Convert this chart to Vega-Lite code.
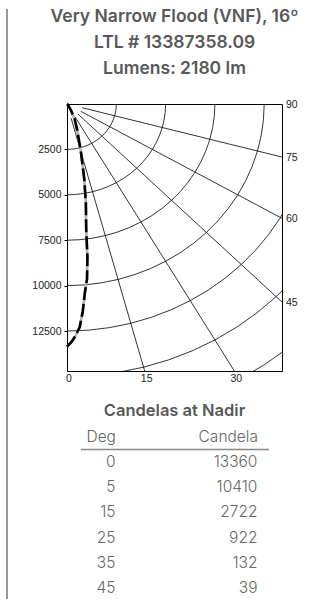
{
  "$schema": "https://vega.github.io/schema/vega-lite/v6.json",
  "padding": {"left": 6, "top": 7, "right": 0, "bottom": 0},
  "config": {"font": "Liberation Sans", "view": {"stroke": null}},
  "datasets": {
    "arcs": [
      {"r": 2500, "a": [0,5,10,15,20,25,30,35,40,45,50,55,60,65,70,75,80,85,90]},
      {"r": 5000, "a": [0,5,10,15,20,25,30,35,40,45,50,55,60,65,70,75,80,85,90]},
      {"r": 7500, "a": [0,5,10,15,20,25,30,35,40,45,50,55,60,65,70,75,80,85,90]},
      {"r": 10000, "a": [0,5,10,15,20,25,30,35,40,45,50,55,60,65,70,75,80,85,90]},
      {"r": 12500, "a": [0,5,10,15,20,25,30,35,40,45,50,55,60,65,70,75,80,85,90]},
      {"r": 15000, "a": [0,5,10,15,20,25,30,35,40,45,50,55,60,65,70,75,80,85,90]},
      {"r": 17500, "a": [0,5,10,15,20,25,30,35,40,45,50,55,60,65,70,75,80,85,90]}
    ],
    "rays": [
      {"a": 15, "r0": 800, "r1": 30000},
      {"a": 30, "r0": 800, "r1": 30000},
      {"a": 45, "r0": 800, "r1": 30000},
      {"a": 60, "r0": 800, "r1": 30000},
      {"a": 75, "r0": 800, "r1": 30000}
    ],
    "labels": [
      {"label": "0", "a": 0, "side": "bottom"},
      {"label": "15", "a": 15, "side": "bottom"},
      {"label": "30", "a": 30, "side": "bottom"},
      {"label": "45", "a": 45, "side": "right"},
      {"label": "60", "a": 60, "side": "right"},
      {"label": "75", "a": 75, "side": "right"},
      {"label": "90", "a": 90, "side": "right"}
    ],
    "curve": [
      {"deg": 0, "cd": 13360},
      {"deg": 1, "cd": 13100},
      {"deg": 2, "cd": 12750},
      {"deg": 3, "cd": 12300},
      {"deg": 4, "cd": 11450},
      {"deg": 5, "cd": 10410},
      {"deg": 6, "cd": 9700},
      {"deg": 7, "cd": 8500},
      {"deg": 8, "cd": 7000},
      {"deg": 10, "cd": 5500},
      {"deg": 12, "cd": 4200},
      {"deg": 15, "cd": 2722},
      {"deg": 20, "cd": 1500},
      {"deg": 25, "cd": 922},
      {"deg": 30, "cd": 400},
      {"deg": 35, "cd": 132},
      {"deg": 45, "cd": 39},
      {"deg": 60, "cd": 10},
      {"deg": 90, "cd": 0}
    ],
    "nadir": [
      {"deg": 0, "cd": 13360},
      {"deg": 5, "cd": 10410},
      {"deg": 15, "cd": 2722},
      {"deg": 25, "cd": 922},
      {"deg": 35, "cd": 132},
      {"deg": 45, "cd": 39}
    ]
  },
  "spacing": 23,
  "hconcat": [
    {
      "width": 1,
      "height": 496,
      "data": {"values": [{}]},
      "view": {"stroke": null},
      "mark": {"type": "rule", "color": "#999999", "strokeWidth": 2, "clip": false},
      "encoding": {
        "x": {"datum": 0, "type": "quantitative", "scale": {"domain": [0, 1]}, "axis": null},
        "y": {"datum": 0, "type": "quantitative", "scale": {"domain": [0, 1]}, "axis": null},
        "y2": {"datum": 1.1915}
      }
    },
    {
      "vconcat": [
        {
          "width": 215,
          "height": 267,
          "view": {"stroke": "#000000", "strokeWidth": 1},
          "title": {
            "text": ["Very Narrow Flood (VNF), 16º", "LTL # 13387358.09", "Lumens: 2180 lm"],
            "font": "Inter", "fontSize": 17.5, "fontWeight": 600, "color": "#585858",
            "lineHeight": 26, "anchor": "middle", "offset": 21
          },
          "encoding": {
            "x": {"field": "X", "type": "quantitative", "scale": {"domain": [0, 10903], "nice": false, "zero": false}, "axis": null},
            "y": {"field": "Y", "type": "quantitative", "scale": {"domain": [0, 14700], "nice": false, "reverse": true},
              "axis": {"values": [2500, 5000, 7500, 10000, 12500], "format": "d", "title": null, "grid": false, "tickSize": 3,
                "tickColor": "#000000", "domainColor": "#000000", "labelFont": "Liberation Sans", "labelFontSize": 10.5,
                "labelColor": "#222222", "labelPadding": 3}}
          },
          "layer": [
            {
              "data": {"name": "arcs"},
              "transform": [
                {"flatten": ["a"]},
                {"calculate": "datum.r*sin(datum.a*PI/180)", "as": "X"},
                {"calculate": "datum.r*cos(datum.a*PI/180)", "as": "Y"}
              ],
              "mark": {"type": "line", "clip": true, "color": "#000000", "strokeWidth": 0.8},
              "encoding": {"detail": {"field": "r", "type": "nominal"}, "order": {"field": "a", "type": "quantitative"}}
            },
            {
              "data": {"name": "rays"},
              "transform": [
                {"calculate": "datum.r0*sin(datum.a*PI/180)", "as": "X"},
                {"calculate": "datum.r0*cos(datum.a*PI/180)", "as": "Y"},
                {"calculate": "datum.r1*sin(datum.a*PI/180)", "as": "X2"},
                {"calculate": "datum.r1*cos(datum.a*PI/180)", "as": "Y2"}
              ],
              "mark": {"type": "rule", "clip": true, "color": "#000000", "strokeWidth": 0.8},
              "encoding": {"x2": {"field": "X2"}, "y2": {"field": "Y2"}}
            },
            {
              "data": {"name": "curve"},
              "transform": [
                {"calculate": "datum.cd*sin(datum.deg*PI/180)", "as": "X"},
                {"calculate": "datum.cd*cos(datum.deg*PI/180)", "as": "Y"}
              ],
              "mark": {"type": "line", "color": "#b3b3b3", "strokeWidth": 2.6},
              "encoding": {"order": {"field": "deg", "type": "quantitative"}}
            },
            {
              "data": {"name": "curve"},
              "transform": [
                {"calculate": "datum.cd*sin(datum.deg*PI/180)", "as": "X"},
                {"calculate": "datum.cd*cos(datum.deg*PI/180)", "as": "Y"}
              ],
              "mark": {"type": "line", "color": "#000000", "strokeWidth": 2.6, "strokeDash": [13, 4], "strokeCap": "butt"},
              "encoding": {"order": {"field": "deg", "type": "quantitative"}}
            },
            {
              "data": {"name": "labels"},
              "transform": [
                {"filter": "datum.side == 'right'"},
                {"calculate": "10903", "as": "X"},
                {"calculate": "10903/tan(datum.a*PI/180)", "as": "Y"}
              ],
              "mark": {"type": "text", "align": "left", "baseline": "middle", "dx": 4, "dy": 1, "font": "Liberation Sans", "fontSize": 10.5, "color": "#222222"},
              "encoding": {"text": {"field": "label"}}
            },
            {
              "data": {"name": "labels"},
              "transform": [
                {"filter": "datum.side == 'bottom'"},
                {"calculate": "14700*tan(datum.a*PI/180)", "as": "X"},
                {"calculate": "14700", "as": "Y"}
              ],
              "mark": {"type": "text", "align": "center", "baseline": "top", "dx": 2, "dy": 3, "font": "Liberation Sans", "fontSize": 10.5, "color": "#222222"},
              "encoding": {"text": {"field": "label"}}
            }
          ]
        },
        {
          "width": 188,
          "height": 148,
          "data": {"name": "nadir"},
          "view": {"stroke": null},
          "title": {"text": "Candelas at Nadir", "font": "Inter", "fontSize": 16.5, "fontWeight": 600, "color": "#585858", "anchor": "middle", "offset": 10},
          "encoding": {
            "y": {"field": "deg", "type": "ordinal", "sort": null, "scale": {"type": "point", "padding": 0.4365, "align": 0.59}, "axis": null}
          },
          "layer": [
            {
              "mark": {"type": "text", "align": "right", "baseline": "middle", "font": "Inter", "fontSize": 15.5, "fontWeight": 300, "color": "#666666"},
              "encoding": {
                "x": {"datum": "Deg", "type": "nominal",
                  "scale": {"type": "point", "domain": ["Deg", "Candela"], "padding": 0.162, "align": 0.76},
                  "axis": {"orient": "top", "title": null, "ticks": false, "grid": false, "domainColor": "#888888", "domainWidth": 1.5,
                    "labelAlign": "right", "labelBaseline": "bottom", "labelAngle": 0, "labelFont": "Inter", "labelFontSize": 15.5,
                    "labelFontWeight": 300, "labelColor": "#666666", "labelPadding": 5}},
                "text": {"field": "deg", "type": "nominal"}
              }
            },
            {
              "mark": {"type": "text", "align": "right", "baseline": "middle", "font": "Inter", "fontSize": 15.5, "fontWeight": 300, "color": "#666666"},
              "encoding": {
                "x": {"datum": "Candela", "type": "nominal"},
                "text": {"field": "cd", "type": "quantitative", "format": "d"}
              }
            }
          ]
        }
      ],
      "spacing": 78,
      "bounds": "flush",
      "center": true
    }
  ]
}
